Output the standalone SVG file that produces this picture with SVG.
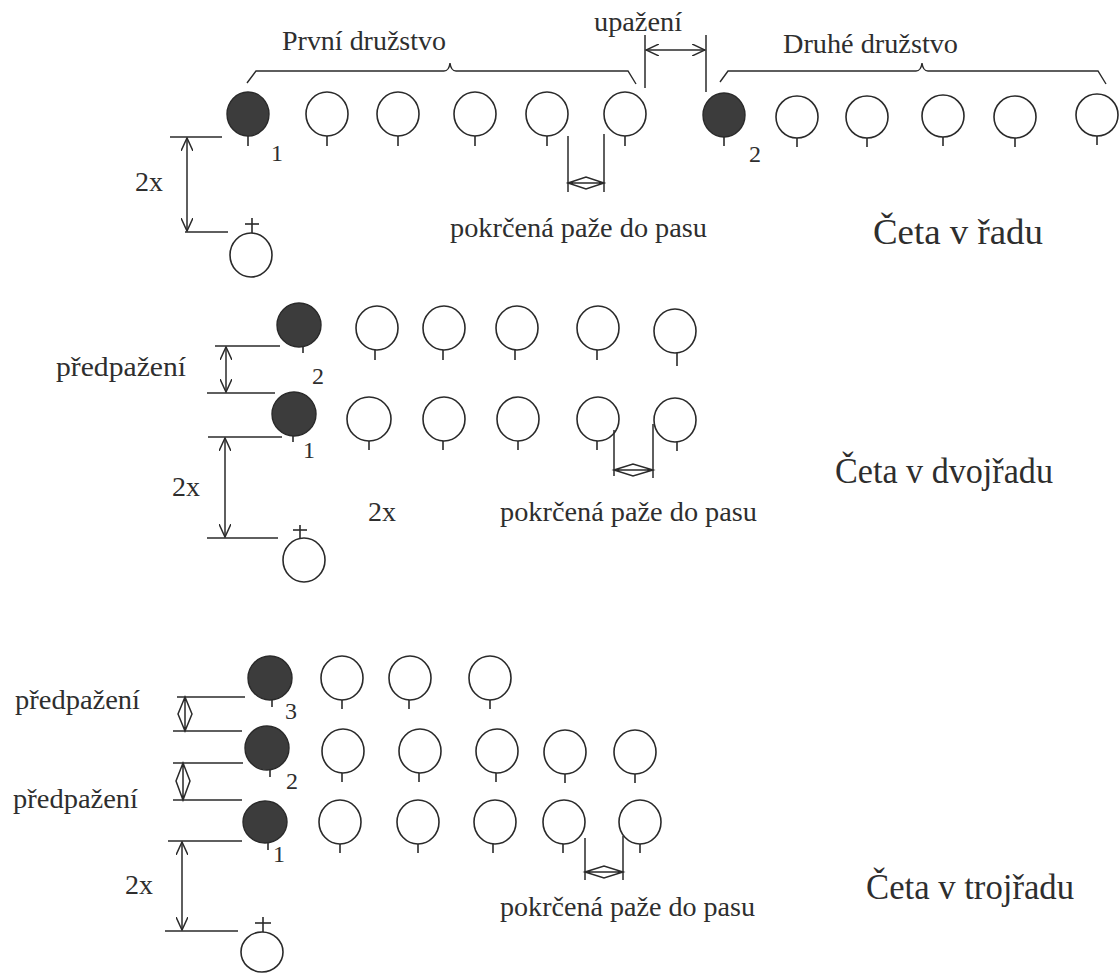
<svg xmlns="http://www.w3.org/2000/svg" width="1120" height="973" viewBox="0 0 1120 973">
<style>
.o{fill:none;stroke:#2a2a2a;stroke-width:1.6}
.f{fill:#3c3c3c;stroke:#2a2a2a;stroke-width:1.4}
.s{stroke:#2a2a2a;stroke-width:1.6;fill:none}
.d{stroke:#2a2a2a;stroke-width:1.4;fill:none}
.dim{stroke:#2a2a2a;stroke-width:1.5;fill:none}
.t{font-family:"Liberation Serif","Times New Roman",serif;fill:#2e2e2e;font-size:28px}
.n{font-family:"Liberation Serif","Times New Roman",serif;fill:#2e2e2e;font-size:24px}
.h{font-family:"Liberation Serif","Times New Roman",serif;fill:#2e2e2e;font-size:36px}
</style>
<defs>
<marker id="va" viewBox="0 0 14 12" refX="13" refY="6" markerWidth="14" markerHeight="12" markerUnits="userSpaceOnUse" orient="auto-start-reverse">
<path d="M0,0 L13,6 L0,12" fill="none" stroke="#2a2a2a" stroke-width="1.5"/>
</marker>
</defs>
<rect width="1120" height="973" fill="#ffffff"/>

<!-- ROW 1: Četa v řadu -->
<g id="row1">
<g id="r1p1"><ellipse class="f" cx="248" cy="114" rx="21" ry="22"/><line class="s" x1="248" y1="136" x2="248" y2="146"/></g>
<g id="r1p2"><ellipse class="o" cx="327" cy="114" rx="21" ry="22"/><line class="s" x1="327" y1="136" x2="327" y2="146"/></g>
<g id="r1p3"><ellipse class="o" cx="398" cy="114" rx="21" ry="22"/><line class="s" x1="398" y1="136" x2="398" y2="146"/></g>
<g id="r1p4"><ellipse class="o" cx="475" cy="114" rx="21" ry="22"/><line class="s" x1="475" y1="136" x2="475" y2="146"/></g>
<g id="r1p5"><ellipse class="o" cx="547" cy="114" rx="21" ry="22"/><line class="s" x1="547" y1="136" x2="547" y2="146"/></g>
<g id="r1p6"><ellipse class="o" cx="625" cy="114" rx="21" ry="22"/><line class="s" x1="625" y1="136" x2="625" y2="146"/></g>
<g id="r1q1"><ellipse class="f" cx="724" cy="115" rx="21" ry="22"/><line class="s" x1="724" y1="137" x2="724" y2="146"/></g>
<g id="r1q2"><ellipse class="o" cx="797" cy="117" rx="21" ry="21"/><line class="s" x1="797" y1="138" x2="797" y2="147"/></g>
<g id="r1q3"><ellipse class="o" cx="867" cy="117" rx="21" ry="21"/><line class="s" x1="867" y1="138" x2="867" y2="147"/></g>
<g id="r1q4"><ellipse class="o" cx="943" cy="116" rx="21" ry="21"/><line class="s" x1="943" y1="137" x2="943" y2="146"/></g>
<g id="r1q5"><ellipse class="o" cx="1015" cy="117" rx="21" ry="21"/><line class="s" x1="1015" y1="138" x2="1015" y2="147"/></g>
<g id="r1q6"><ellipse class="o" cx="1097" cy="115" rx="21" ry="21"/><line class="s" x1="1097" y1="136" x2="1097" y2="145"/></g>
<g id="r1lead"><ellipse class="o" cx="251" cy="255" rx="21" ry="22"/><line class="s" x1="252" y1="218" x2="252" y2="233"/><line class="s" x1="245" y1="224" x2="259" y2="224"/></g>
<text class="t" x="282" y="50" textLength="164" lengthAdjust="spacingAndGlyphs">První družstvo</text>
<text class="t" x="594" y="31" textLength="88" lengthAdjust="spacingAndGlyphs">upažení</text>
<text class="t" x="783" y="53" textLength="175" lengthAdjust="spacingAndGlyphs">Druhé družstvo</text>
<text class="n" x="271" y="161">1</text>
<text class="n" x="749" y="162">2</text>
<text class="t" x="135" y="191">2x</text>
<text class="t" x="450" y="237" textLength="257" lengthAdjust="spacingAndGlyphs">pokrčená paže do pasu</text>
<text class="h" x="873" y="244" textLength="170" lengthAdjust="spacingAndGlyphs">Četa v řadu</text>
</g>

<!-- ROW 2: Četa v dvojřadu -->
<g id="row2">
<g id="r2a1"><ellipse class="f" cx="299" cy="325" rx="22" ry="22"/><line class="s" x1="303" y1="347" x2="303" y2="353"/></g>
<g id="r2a2"><ellipse class="o" cx="377" cy="328" rx="21" ry="22"/><line class="s" x1="375" y1="350" x2="375" y2="360"/></g>
<g id="r2a3"><ellipse class="o" cx="444" cy="328" rx="21" ry="22"/><line class="s" x1="443" y1="350" x2="443" y2="360"/></g>
<g id="r2a4"><ellipse class="o" cx="517" cy="328" rx="21" ry="22"/><line class="s" x1="515" y1="350" x2="515" y2="360"/></g>
<g id="r2a5"><ellipse class="o" cx="598" cy="328" rx="21" ry="22"/><line class="s" x1="597" y1="350" x2="597" y2="360"/></g>
<g id="r2a6"><ellipse class="o" cx="675" cy="331" rx="21" ry="22"/><line class="s" x1="677" y1="353" x2="677" y2="366"/></g>
<g id="r2b1"><ellipse class="f" cx="294" cy="414" rx="22" ry="22"/><line class="s" x1="293" y1="436" x2="293" y2="442"/></g>
<g id="r2b2"><ellipse class="o" cx="369" cy="419" rx="22" ry="22"/><line class="s" x1="369" y1="441" x2="369" y2="450"/></g>
<g id="r2b3"><ellipse class="o" cx="444" cy="419" rx="21" ry="22"/><line class="s" x1="443" y1="441" x2="443" y2="450"/></g>
<g id="r2b4"><ellipse class="o" cx="518" cy="419" rx="21" ry="22"/><line class="s" x1="518" y1="441" x2="518" y2="450"/></g>
<g id="r2b5"><ellipse class="o" cx="598" cy="419" rx="21" ry="22"/><line class="s" x1="597" y1="441" x2="597" y2="450"/></g>
<g id="r2b6"><ellipse class="o" cx="675" cy="420" rx="21" ry="22"/><line class="s" x1="677" y1="442" x2="677" y2="451"/></g>
<g id="r2lead"><ellipse class="o" cx="304" cy="560" rx="21" ry="22"/><line class="s" x1="300" y1="525" x2="300" y2="538"/><line class="s" x1="293" y1="530" x2="307" y2="530"/></g>
<text class="t" x="56" y="376" textLength="130" lengthAdjust="spacingAndGlyphs">předpažení</text>
<text class="n" x="312" y="384">2</text>
<text class="n" x="303" y="458">1</text>
<text class="t" x="172" y="496">2x</text>
<text class="t" x="368" y="521">2x</text>
<text class="t" x="500" y="521" textLength="257" lengthAdjust="spacingAndGlyphs">pokrčená paže do pasu</text>
<text class="h" x="835" y="483" textLength="218" lengthAdjust="spacingAndGlyphs">Četa v dvojřadu</text>
</g>

<!-- ROW 3: Četa v trojřadu -->
<g id="row3">
<g id="r3a1"><ellipse class="f" cx="270" cy="678" rx="22" ry="22"/><line class="s" x1="272" y1="700" x2="272" y2="707"/></g>
<g id="r3a2"><ellipse class="o" cx="342" cy="678" rx="21" ry="22"/><line class="s" x1="342" y1="700" x2="342" y2="709"/></g>
<g id="r3a3"><ellipse class="o" cx="410" cy="678" rx="21" ry="22"/><line class="s" x1="409" y1="700" x2="409" y2="709"/></g>
<g id="r3a4"><ellipse class="o" cx="490" cy="678" rx="21" ry="22"/><line class="s" x1="490" y1="700" x2="490" y2="709"/></g>
<g id="r3b1"><ellipse class="f" cx="267" cy="748" rx="22" ry="22"/><line class="s" x1="270" y1="770" x2="270" y2="777"/></g>
<g id="r3b2"><ellipse class="o" cx="343" cy="751" rx="21" ry="22"/><line class="s" x1="342" y1="773" x2="342" y2="782"/></g>
<g id="r3b3"><ellipse class="o" cx="420" cy="751" rx="21" ry="22"/><line class="s" x1="419" y1="773" x2="419" y2="782"/></g>
<g id="r3b4"><ellipse class="o" cx="497" cy="751" rx="21" ry="22"/><line class="s" x1="496" y1="773" x2="496" y2="782"/></g>
<g id="r3b5"><ellipse class="o" cx="565" cy="752" rx="21" ry="22"/><line class="s" x1="565" y1="774" x2="565" y2="783"/></g>
<g id="r3b6"><ellipse class="o" cx="635" cy="752" rx="21" ry="22"/><line class="s" x1="635" y1="774" x2="635" y2="783"/></g>
<g id="r3c1"><ellipse class="f" cx="265" cy="822" rx="22" ry="21"/><line class="s" x1="268" y1="843" x2="268" y2="850"/></g>
<g id="r3c2"><ellipse class="o" cx="340" cy="822" rx="21" ry="22"/><line class="s" x1="340" y1="844" x2="340" y2="853"/></g>
<g id="r3c3"><ellipse class="o" cx="418" cy="822" rx="21" ry="22"/><line class="s" x1="418" y1="844" x2="418" y2="853"/></g>
<g id="r3c4"><ellipse class="o" cx="495" cy="822" rx="21" ry="22"/><line class="s" x1="493" y1="844" x2="493" y2="853"/></g>
<g id="r3c5"><ellipse class="o" cx="564" cy="822" rx="21" ry="22"/><line class="s" x1="563" y1="844" x2="563" y2="853"/></g>
<g id="r3c6"><ellipse class="o" cx="640" cy="822" rx="21" ry="22"/><line class="s" x1="640" y1="844" x2="640" y2="853"/></g>
<g id="r3lead"><ellipse class="o" cx="262" cy="952" rx="21" ry="20"/><line class="s" x1="263" y1="917" x2="263" y2="932"/><line class="s" x1="255" y1="923" x2="271" y2="923"/></g>
<text class="t" x="15" y="709" textLength="125" lengthAdjust="spacingAndGlyphs">předpažení</text>
<text class="t" x="13" y="808" textLength="125" lengthAdjust="spacingAndGlyphs">předpažení</text>
<text class="n" x="285" y="719">3</text>
<text class="n" x="286" y="789">2</text>
<text class="n" x="273" y="862">1</text>
<text class="t" x="125" y="894">2x</text>
<text class="t" x="500" y="916" textLength="255" lengthAdjust="spacingAndGlyphs">pokrčená paže do pasu</text>
<text class="h" x="866" y="899" textLength="208" lengthAdjust="spacingAndGlyphs">Četa v trojřadu</text>
</g>

<!-- connectors: braces, dimension lines, arrows -->
<g id="connectors">
<path class="d" d="M247,83 L256,71 L444,71 Q449,71 450,63 Q451,71 456,71 L628,71 L636,84"/>
<path class="d" d="M720,82 L728,71 L916,71 Q921,71 922,63 Q923,71 928,71 L1098,71 L1106,84"/>
<line class="dim" x1="645" y1="35" x2="645" y2="88"/>
<line class="dim" x1="706" y1="35" x2="706" y2="92"/>
<line class="dim" x1="646" y1="50" x2="705" y2="50" marker-start="url(#va)" marker-end="url(#va)"/>
<!-- row1 2x -->
<line class="dim" x1="170" y1="137" x2="222" y2="137"/>
<line class="dim" x1="185" y1="232" x2="228" y2="232"/>
<line class="dim" x1="187" y1="138" x2="187" y2="231" marker-start="url(#va)" marker-end="url(#va)"/>
<!-- row1 pokrcena -->
<line class="dim" x1="568" y1="136" x2="568" y2="192"/>
<line class="dim" x1="604" y1="134" x2="604" y2="192"/>
<path class="dim" d="M568,183 L604,183 M568,183 L586,177 L604,183 L586,189 Z"/>
<!-- row2 predpazeni -->
<line class="dim" x1="215" y1="346" x2="280" y2="346"/>
<line class="dim" x1="207" y1="393" x2="275" y2="393"/>
<line class="dim" x1="226" y1="347" x2="226" y2="392" marker-start="url(#va)" marker-end="url(#va)"/>
<!-- row2 2x -->
<line class="dim" x1="208" y1="437" x2="282" y2="437"/>
<line class="dim" x1="207" y1="538" x2="278" y2="538"/>
<line class="dim" x1="225" y1="438" x2="225" y2="537" marker-start="url(#va)" marker-end="url(#va)"/>
<!-- row2 pokrcena -->
<line class="dim" x1="614" y1="430" x2="614" y2="476"/>
<line class="dim" x1="653" y1="424" x2="653" y2="478"/>
<path class="dim" d="M614,470 L653,470 M614,470 L633,464 L653,470 L633,476 Z"/>
<!-- row3 predpazeni 1 -->
<line class="dim" x1="177" y1="697" x2="245" y2="697"/>
<line class="dim" x1="173" y1="731" x2="242" y2="731"/>
<path class="dim" d="M185,697 L185,731 M185,697 L178,714 L185,731 L192,714 Z"/>
<!-- row3 predpazeni 2 -->
<line class="dim" x1="173" y1="763" x2="243" y2="763"/>
<line class="dim" x1="173" y1="800" x2="242" y2="800"/>
<path class="dim" d="M183,763 L183,800 M183,763 L176,781 L183,800 L190,781 Z"/>
<!-- row3 2x -->
<line class="dim" x1="168" y1="841" x2="242" y2="841"/>
<line class="dim" x1="165" y1="931" x2="238" y2="931"/>
<line class="dim" x1="182" y1="842" x2="182" y2="930" marker-start="url(#va)" marker-end="url(#va)"/>
<!-- row3 pokrcena -->
<line class="dim" x1="585" y1="838" x2="585" y2="880"/>
<line class="dim" x1="623" y1="836" x2="623" y2="880"/>
<path class="dim" d="M585,872 L623,872 M585,872 L604,866 L623,872 L604,878 Z"/>
</g>
</svg>
